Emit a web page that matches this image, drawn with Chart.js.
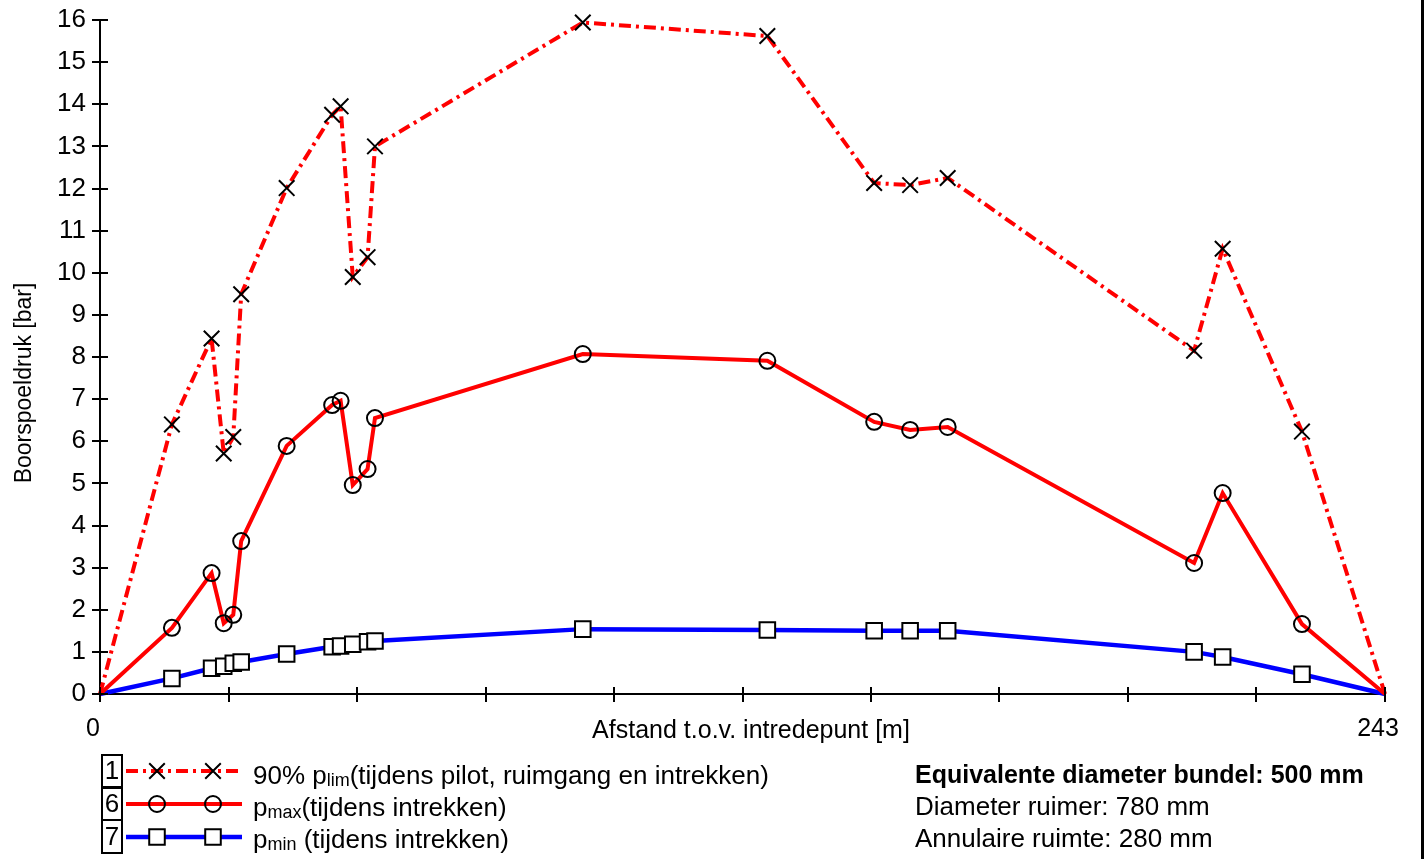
<!DOCTYPE html>
<html><head><meta charset="utf-8">
<script src="https://cdn.jsdelivr.net/npm/chart.js@4/dist/chart.umd.min.js"></script>
<style>html,body{margin:0;padding:0;background:#fff;overflow:hidden}#wrap{position:relative;width:1426px;height:859px}</style>
</head><body><div id="wrap"><canvas id="c" width="1426" height="859"></canvas></div>
<script>
// ---- data ----
const stations = [0, 13.6, 21.1, 23.4, 25.2, 26.7, 35.3, 43.9, 45.5, 47.8, 50.6, 52.0, 91.3, 126.2, 146.4, 153.2, 160.3, 206.9, 212.3, 227.3, 243];
const pLim = [0, 6.4, 8.44, 5.71, 6.1, 9.49, 12.01, 13.75, 13.95, 9.9, 10.37, 13.0, 15.94, 15.62, 12.13, 12.08, 12.25, 8.15, 10.57, 6.23, 0];
const pMax = [0, 1.57, 2.87, 1.68, 1.88, 3.63, 5.89, 6.86, 6.96, 4.96, 5.34, 6.55, 8.07, 7.91, 6.46, 6.27, 6.34, 3.11, 4.77, 1.66, 0];
const pMin = [0, 0.37, 0.61, 0.66, 0.73, 0.76, 0.95, 1.12, 1.14, 1.18, 1.24, 1.26, 1.54, 1.52, 1.50, 1.50, 1.50, 1.0, 0.88, 0.47, 0];
const xTicks = [0, 24.3, 48.6, 72.9, 97.2, 121.5, 145.8, 170.1, 194.4, 218.7, 243];
const xTickLabels = ['0', '', '', '', '', '', '', '', '', '', '243'];
const yTicks = [0, 1, 2, 3, 4, 5, 6, 7, 8, 9, 10, 11, 12, 13, 14, 15, 16];
const xTitle = 'Afstand t.o.v. intredepunt [m]';
const yTitle = 'Boorspoeldruk [bar]';
const legendNumbers = ['1', '6', '7'];
const legendMain = ['90% p', 'p', 'p'];
const legendSub = ['lim', 'max', 'min'];
const legendRest = ['(tijdens pilot, ruimgang en intrekken)', '(tijdens intrekken)', ' (tijdens intrekken)'];
const infoLines = ['Equivalente diameter bundel: 500 mm', 'Diameter ruimer: 780 mm', 'Annulaire ruimte: 280 mm'];

const FONT = '"Liberation Sans", Arial, sans-serif';
Chart.defaults.font.family = FONT;
Chart.defaults.color = '#000';

const last = stations.length - 1;
const pts = arr => stations.map((x, i) => ({x: x, y: arr[i]}));
const rad = r => ctx => (ctx.dataIndex === 0 || ctx.dataIndex === last) ? 0 : r;

const datasets = [
  {label: '90% plim', data: pts(pLim), borderColor: '#ff0000', borderWidth: 4, borderDash: [12, 5, 3, 5],
   pointStyle: 'crossRot', pointRadius: rad(11), pointBorderColor: '#000', pointBorderWidth: 2,
   pointBackgroundColor: 'rgba(0,0,0,0)', clip: false},
  {label: 'pmax', data: pts(pMax), borderColor: '#ff0000', borderWidth: 4,
   pointStyle: 'circle', pointRadius: rad(8), pointBorderColor: '#000', pointBorderWidth: 2,
   pointBackgroundColor: 'rgba(0,0,0,0)', clip: false},
  {label: 'pmin', data: pts(pMin), borderColor: '#0000ff', borderWidth: 4.5,
   pointStyle: 'rect', pointRadius: rad(11), pointBorderColor: '#000', pointBorderWidth: 2,
   pointBackgroundColor: '#fff', clip: false}
];

const decor = {
  id: 'decor',
  afterDraw(chart) {
    const ctx = chart.ctx, xs = chart.scales.x, ys = chart.scales.y;
    ctx.save();
    ctx.strokeStyle = '#000'; ctx.lineWidth = 2;
    // tick marks crossing the axes
    yTicks.forEach(v => { const y = Math.round(ys.getPixelForValue(v)); ctx.beginPath(); ctx.moveTo(xs.left - 8, y); ctx.lineTo(xs.left + 8, y); ctx.stroke(); });
    xTicks.forEach(v => { const x = Math.round(xs.getPixelForValue(v)); ctx.beginPath(); ctx.moveTo(x, ys.bottom - 7); ctx.lineTo(x, ys.bottom + 8); ctx.stroke(); });
    ctx.fillStyle = '#000';
    // axis titles
    ctx.font = '25px ' + FONT; ctx.textAlign = 'center'; ctx.textBaseline = 'middle';
    ctx.fillText(xTitle, 751, 731);
    ctx.save(); ctx.translate(25, 383); ctx.rotate(-Math.PI / 2); ctx.font = '23px ' + FONT; ctx.fillText(yTitle, 0, 0); ctx.restore();
    // legend
    const rowsY = [771, 804, 837], baseY = [784, 816, 848], boxTop = [755, 787, 820];
    datasets.forEach((ds, i) => {
      ctx.strokeStyle = '#000'; ctx.lineWidth = 2; ctx.setLineDash([]);
      ctx.strokeRect(102, boxTop[i], 20, 33);
      ctx.font = '26px ' + FONT; ctx.textAlign = 'center'; ctx.textBaseline = 'middle'; ctx.fillStyle = '#000';
      ctx.fillText(legendNumbers[i], 112, rowsY[i] + 1);
      ctx.strokeStyle = ds.borderColor; ctx.lineWidth = ds.borderWidth; ctx.setLineDash(ds.borderDash || []);
      ctx.beginPath(); ctx.moveTo(126, rowsY[i]); ctx.lineTo(242, rowsY[i]); ctx.stroke();
      ctx.setLineDash([]);
      [157, 213].forEach(px => {
        ctx.strokeStyle = '#000'; ctx.fillStyle = ds.pointBackgroundColor; ctx.lineWidth = ds.pointBorderWidth;
        Chart.helpers.drawPoint(ctx, {pointStyle: ds.pointStyle, radius: ds.pointRadius({dataIndex: 1}), rotation: 0, borderWidth: ds.pointBorderWidth}, px, rowsY[i]);
      });
      ctx.fillStyle = '#000'; ctx.textAlign = 'left'; ctx.textBaseline = 'alphabetic';
      let x = 253;
      ctx.font = '26px ' + FONT; ctx.fillText(legendMain[i], x, baseY[i]); x += ctx.measureText(legendMain[i]).width;
      ctx.font = '18px ' + FONT; ctx.fillText(legendSub[i], x, baseY[i] + 2); x += ctx.measureText(legendSub[i]).width;
      ctx.font = '26px ' + FONT; ctx.fillText(legendRest[i], x, baseY[i]);
    });
    // info text
    const infoBase = [783, 815, 847];
    infoLines.forEach((t, i) => {
      ctx.font = (i === 0 ? 'bold 25px ' : '26px ') + FONT;
      ctx.fillText(t, 915, infoBase[i]);
    });
    // right frame line
    ctx.fillRect(1421, 0, 3, 859);
    ctx.restore();
  }
};

new Chart(document.getElementById('c'), {
  type: 'line',
  data: {datasets: datasets},
  options: {
    responsive: false, devicePixelRatio: 1, animation: false, events: [],
    layout: {padding: {left: 0, right: 41, top: 20, bottom: 105}},
    plugins: {legend: {display: false}, tooltip: {enabled: false}},
    elements: {line: {tension: 0}},
    scales: {
      x: {type: 'linear', min: 0, max: 243,
          afterBuildTicks: s => { s.ticks = xTicks.map(v => ({value: v})); },
          afterFit: s => { s.height = 60; s.paddingLeft = 0; s.paddingRight = 0; },
          grid: {display: false},
          border: {display: true, color: '#000', width: 2},
          ticks: {autoSkip: false, maxRotation: 0, padding: 12, labelOffset: -7, font: {size: 25},
                  callback: (v, i) => xTickLabels[i]}},
      y: {type: 'linear', min: 0, max: 16,
          afterBuildTicks: s => { s.ticks = yTicks.map(v => ({value: v})); },
          afterFit: s => { s.width = 100; s.paddingTop = 0; s.paddingBottom = 0; },
          grid: {display: false},
          border: {display: true, color: '#000', width: 2},
          ticks: {padding: 6, font: {size: 26}, callback: v => String(v)}}
    }
  },
  plugins: [decor]
});
</script></body></html>
